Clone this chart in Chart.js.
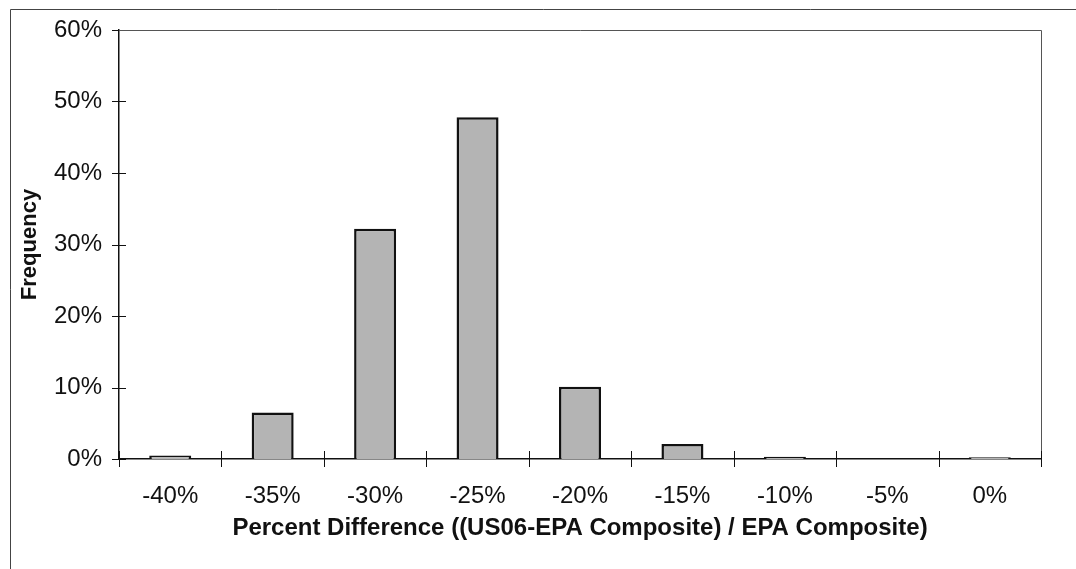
<!DOCTYPE html>
<html>
<head>
<meta charset="utf-8">
<script src="https://cdn.jsdelivr.net/npm/chart.js@4/dist/chart.umd.min.js"></script>
<style>
  html, body { margin: 0; padding: 0; background: #fff; }
  #wrap { width: 1076px; height: 569px; position: relative; }
</style>
</head>
<body>
<div id="wrap"><canvas id="c" width="1076" height="569"></canvas></div>
<script>
// Data
const categories = ['-40%', '-35%', '-30%', '-25%', '-20%', '-15%', '-10%', '-5%', '0%'];
const frequency = [0.5, 6.5, 32.2, 47.8, 10.1, 2.1, 0.3, 0, 0.25];
const yTicks = [0, 10, 20, 30, 40, 50, 60];
const xTitle = 'Percent Difference ((US06-EPA Composite) / EPA Composite)';
const yTitle = 'Frequency';

const FONT = "'Liberation Sans', Arial, sans-serif";
const INK = '#111';

const frame = {
  id: 'frame',
  afterDraw(chart) {
    const ctx = chart.ctx;
    const a = chart.chartArea;
    const xs = chart.scales.x, ys = chart.scales.y;
    ctx.save();
    // outer frame (extends past right/bottom edges)
    ctx.strokeStyle = '#444';
    ctx.lineWidth = 1;
    ctx.beginPath();
    ctx.moveTo(1080, 9.5); ctx.lineTo(10.5, 9.5); ctx.lineTo(10.5, 575);
    ctx.stroke();
    // plot area top & right border
    ctx.strokeStyle = '#555';
    ctx.beginPath();
    ctx.moveTo(a.left, a.top + 0.5); ctx.lineTo(a.right + 0.5, a.top + 0.5); ctx.lineTo(a.right + 0.5, a.bottom + 8);
    ctx.stroke();
    // y tick marks crossing the axis
    ctx.strokeStyle = INK;
    ctx.lineWidth = 1;
    yTicks.forEach(v => {
      const y = Math.round(ys.getPixelForValue(v)) + 0.5;
      ctx.beginPath();
      ctx.moveTo(a.left - 7, y);
      ctx.lineTo(v === yTicks[yTicks.length - 1] ? a.left : a.left + 7, y);
      ctx.stroke();
    });
    // x tick marks at category boundaries
    for (let i = 0; i <= categories.length; i++) {
      let x;
      if (i === 0) x = a.left;
      else if (i === categories.length) x = a.right;
      else x = (xs.getPixelForValue(i - 1) + xs.getPixelForValue(i)) / 2;
      x = Math.round(x) + 0.5;
      ctx.beginPath();
      ctx.moveTo(x, a.bottom - 8);
      ctx.lineTo(x, a.bottom + 8);
      ctx.stroke();
    }
    ctx.restore();
  }
};

new Chart(document.getElementById('c'), {
  type: 'bar',
  data: {
    labels: categories,
    datasets: [{
      data: frequency,
      backgroundColor: '#b4b4b4',
      borderColor: '#111',
      borderWidth: 2.5,
      borderSkipped: 'bottom',
      barPercentage: 0.41,
      categoryPercentage: 1.0
    }]
  },
  options: {
    responsive: false,
    animation: false,
    devicePixelRatio: 1,
    layout: { padding: { top: 30, right: 35, left: 0, bottom: 0 } },
    plugins: { legend: { display: false }, tooltip: { enabled: false } },
    scales: {
      x: {
        grid: { display: false },
        border: { display: true, color: INK, width: 1.5 },
        ticks: { color: INK, font: { family: FONT, size: 24 }, padding: 15, maxRotation: 0 },
        title: {
          display: true, text: xTitle, color: INK,
          font: { family: FONT, size: 24, weight: 'bold' },
          padding: { top: 26, bottom: 26 }
        },
        afterFit(s) { s.height = 110; }
      },
      y: {
        min: 0, max: 60,
        afterBuildTicks(s) { s.ticks = yTicks.map(v => ({ value: v })); },
        grid: { display: false },
        border: { display: true, color: INK, width: 1.5 },
        ticks: {
          color: INK, font: { family: FONT, size: 24 }, padding: 9,
          callback: v => v + '%'
        },
        title: {
          display: true, text: yTitle, color: INK,
          font: { family: FONT, size: 22, weight: 'bold' },
          padding: { top: 17, bottom: 17 }
        },
        afterFit(s) { s.width = 119; }
      }
    }
  },
  plugins: [frame]
});
</script>
</body>
</html>
